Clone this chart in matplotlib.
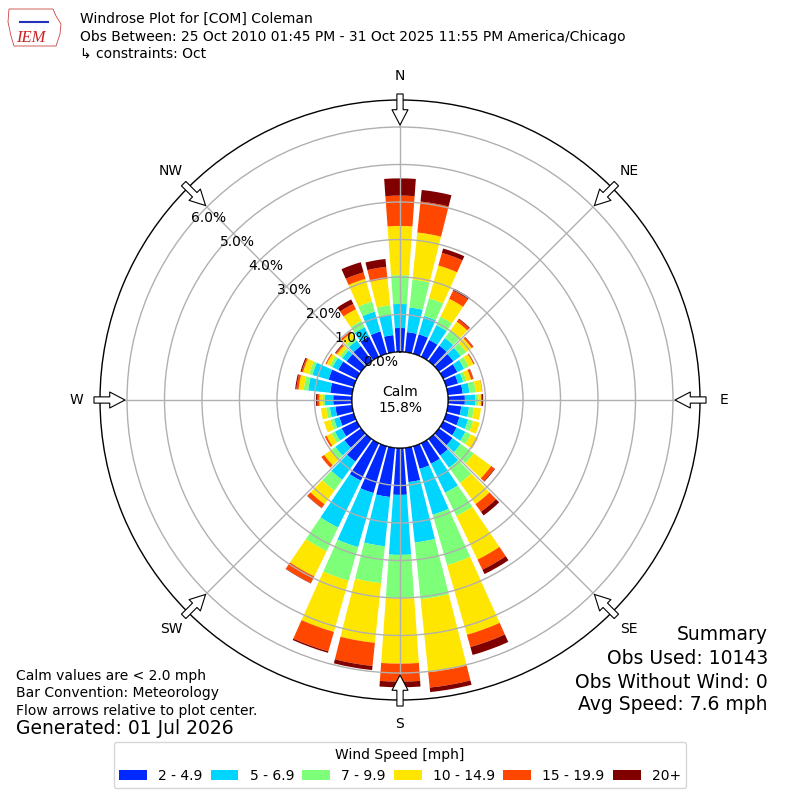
import numpy as np
import matplotlib
matplotlib.use("Agg")
import matplotlib.pyplot as plt
from matplotlib.patches import Circle, Patch, Polygon

# ---------------- data (cumulative % per direction) ----------------
directions = list(range(0, 360, 10))
speed_labels = ["2 - 4.9", "5 - 6.9", "7 - 9.9", "10 - 14.9", "15 - 19.9", "20+"]

cum_2 = [0.64, 0.54, 0.54, 0.50, 0.51, 0.48, 0.42, 0.33, 0.40, 0.45, 0.36, 0.37,
         0.40, 0.45, 0.55, 0.61, 0.63, 0.92, 1.25, 1.32, 1.30, 1.11, 0.75, 0.55,
         0.45, 0.40, 0.45, 0.50, 0.59, 0.70, 0.55, 0.48, 0.50, 0.60, 0.62, 0.46]
cum_5 = [1.28, 1.20, 1.05, 0.94, 0.76, 0.72, 0.62, 0.47, 0.58, 0.73, 0.57, 0.61,
         0.66, 0.72, 0.95, 1.47, 1.90, 2.54, 2.85, 2.64, 2.80, 2.50, 1.35, 0.85,
         0.65, 0.55, 0.60, 0.72, 1.18, 1.15, 0.72, 0.62, 0.68, 0.88, 1.17, 1.00]
cum_7 = [2.05, 1.95, 1.54, 1.19, 1.02, 0.90, 0.76, 0.56, 0.75, 0.81, 0.70, 0.75,
         0.82, 1.15, 1.45, 2.16, 3.30, 4.06, 4.01, 3.63, 3.73, 3.20, 1.70, 1.00,
         0.75, 0.65, 0.70, 0.78, 1.30, 1.24, 0.80, 0.70, 0.78, 1.07, 1.45, 1.26]
cum_10 = [3.36, 3.21, 2.45, 1.72, 1.30, 1.08, 0.90, 0.69, 0.92, 0.88, 0.89, 0.93,
          1.02, 1.72, 2.15, 3.45, 5.23, 6.02, 5.75, 5.23, 5.15, 3.95, 2.15, 1.22,
          0.90, 0.83, 0.84, 0.87, 1.44, 1.41, 0.90, 0.80, 0.93, 1.41, 2.08, 1.97]
cum_15 = [4.17, 4.04, 2.80, 1.96, 1.38, 1.13, 0.92, 0.75, 0.93, 0.91, 0.89, 0.93,
          1.03, 1.83, 2.40, 3.75, 5.57, 6.43, 6.23, 5.85, 5.69, 4.15, 2.27, 1.31,
          0.95, 0.83, 0.84, 0.92, 1.50, 1.45, 0.93, 0.84, 0.98, 1.57, 2.26, 2.29]
cum_20 = [4.63, 4.35, 2.92, 2.02, 1.40, 1.14, 0.93, 0.76, 0.93, 0.94, 0.89, 0.93,
          1.03, 1.85, 2.52, 3.88, 5.79, 6.55, 6.38, 5.96, 5.73, 4.16, 2.28, 1.31,
          0.95, 0.83, 0.84, 0.96, 1.53, 1.48, 0.93, 0.86, 0.98, 1.70, 2.54, 2.50]

calm_pct = 15.8
ring_values = [0, 1, 2, 3, 4, 5, 6]
compass_angles = [0, 45, 90, 135, 180, 225, 270, 315]
compass_labels = ["N", "NE", "E", "SE", "S", "SW", "W", "NW"]

title_lines = ["Windrose Plot for [COM] Coleman",
               "Obs Between: 25 Oct 2010 01:45 PM - 31 Oct 2025 11:55 PM America/Chicago",
               "\u21b3 constraints: Oct"]
note_lines = ["Calm values are < 2.0 mph", "Bar Convention: Meteorology",
              "Flow arrows relative to plot center."]
generated = "Generated: 01 Jul 2026"
summary_lines = ["Summary", "Obs Used: 10143", "Obs Without Wind: 0", "Avg Speed: 7.6 mph"]

# ---------------- figure ----------------
W = H = 800
fig = plt.figure(figsize=(8, 8), dpi=100)
ax = fig.add_axes([0.125, 0.125, 0.75, 0.75], projection="polar")
ax.set_theta_zero_location("N")
ax.set_theta_direction(-1)
RMAX = 6.72
ax.set_ylim(0, RMAX)
ax.set_rorigin(-1.28)

colors = plt.cm.jet(np.linspace(0, 1, 7))[1:]
theta = np.deg2rad(directions)
width = np.deg2rad(8.2)
cums = [cum_2, cum_5, cum_7, cum_10, cum_15, cum_20]
bottom = np.zeros(len(directions))
for c, lab, col in zip(cums, speed_labels, colors):
    top = np.array(c)
    ax.bar(theta, top - bottom, bottom=bottom, width=width, color=col,
           linewidth=0, zorder=1, align="center")
    bottom = top

ax.set_yticks(ring_values[1:])
ax.set_yticklabels([])
ax.set_xticks(np.deg2rad(compass_angles))
ax.set_xticklabels([])
ax.grid(True, color="#b0b0b0", linewidth=1.0)
ax.tick_params(length=0)
ax.spines["polar"].set_color("black")
ax.spines["polar"].set_linewidth(1.0)

# calm circle
ax.add_patch(Circle((0.5, 0.5), 48 / 600, transform=ax.transAxes, facecolor="white",
                    edgecolor="black", linewidth=1.0, zorder=3))
ax.text(0.5, 0.5, "Calm\n%.1f%%" % calm_pct, transform=ax.transAxes, ha="center",
        va="center", fontsize=10, zorder=4, linespacing=1.2)

# ring labels
for v in ring_values:
    ax.text(np.deg2rad(310), v, "%.1f%%" % v, ha="left", va="bottom", fontsize=10, zorder=5)

# compass labels and arrows
lab_r = (324 - 48) / 37.5
tip_r = (275 - 48) / 37.5
tail_r = (306 - 48) / 37.5
for ang, lab in zip(compass_angles, compass_labels):
    t = np.deg2rad(ang)
    ax.text(t, lab_r, lab, ha="center", va="center", fontsize=10, clip_on=False)
    ax.annotate("", xy=(t, tip_r), xytext=(t, tail_r),
                arrowprops=dict(arrowstyle="simple,head_length=1.1,head_width=1.15,tail_width=0.45",
                                fc="white", ec="black", lw=0.8, mutation_scale=10,
                                shrinkA=0, shrinkB=0),
                zorder=6, annotation_clip=False)

# ---------------- texts ----------------
def fy(py):
    return 1 - py / H

for line, py in zip(title_lines, [19, 37, 54]):
    fig.text(80 / W, fy(py), line, fontsize=10, va="center", ha="left")

for line, py in zip(note_lines, [676, 693.3, 710.7]):
    fig.text(16 / W, fy(py), line, fontsize=10, va="center", ha="left")
fig.text(16 / W, fy(728.3), generated, fontsize=13.5, va="center", ha="left")

for line, py in zip(summary_lines, [635, 659, 682, 705]):
    fig.text(768 / W, fy(py), line, fontsize=13.5, va="center", ha="right")

# logo (simplified)
fig.text(31 / W, fy(38), "IEM", fontsize=12, color="#cc2222", style="italic",
         family="Liberation Serif", ha="center", va="center")
logo = Polygon([(9, 9), (53, 9), (56, 16), (61, 24), (60, 34), (56, 46), (14, 46),
                (11, 36), (8, 22)], closed=True, fill=False, edgecolor="#cc4444",
               linewidth=0.6, transform=None)
logo.set_xy([(x, H - y) for x, y in logo.get_xy()])
fig.patches.append(logo)
fig.lines.append(plt.Line2D([20 / W, 48 / W], [fy(22), fy(22)], transform=fig.transFigure,
                            color="#2233bb", linewidth=1.5))

# legend
handles = [Patch(facecolor=col, edgecolor="none") for col in colors]
fig.legend(handles, speed_labels, loc="lower center", bbox_to_anchor=(0.5, 5 / H),
           ncol=6, title="Wind Speed [mph]", fontsize=10, title_fontsize=10,
           columnspacing=0.6, handlelength=2.0, handletextpad=0.8)

fig.savefig("out.png", dpi=100)
